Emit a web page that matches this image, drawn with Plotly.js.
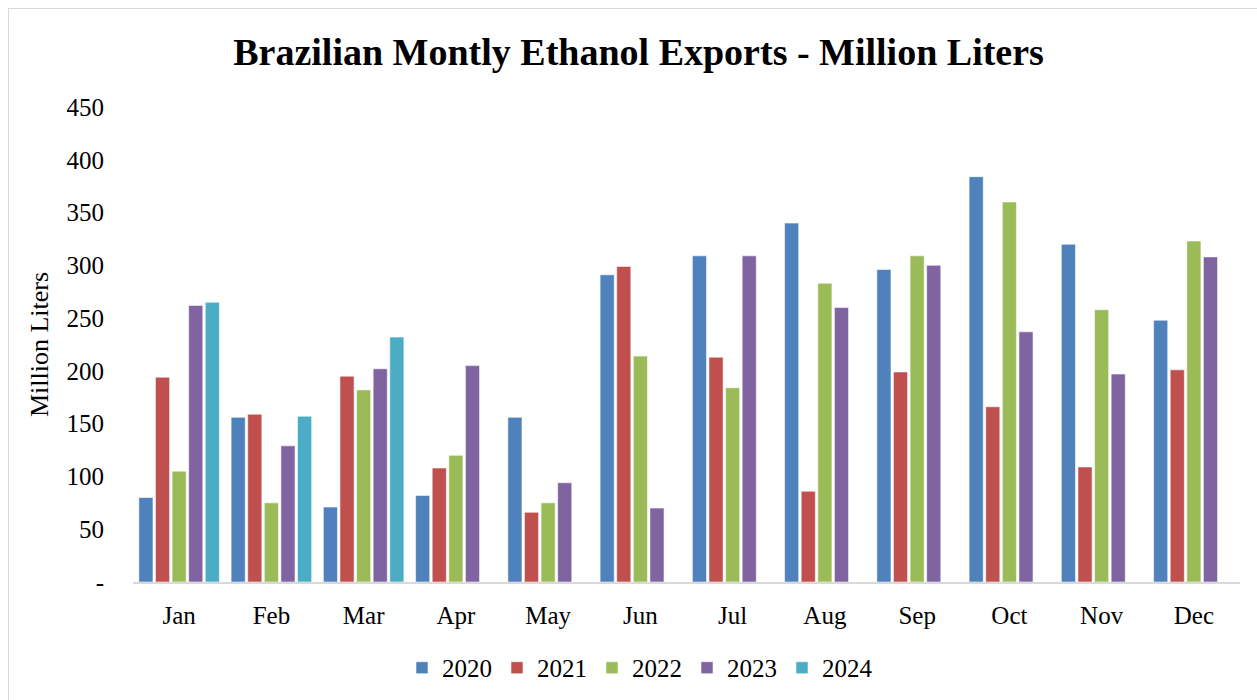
<!DOCTYPE html>
<html>
<head>
<meta charset="utf-8">
<script src="https://cdn.plot.ly/plotly-3.0.1.min.js"></script>
<style>
  html, body { margin: 0; padding: 0; background: #fff; }
  #wrap { position: relative; width: 1257px; height: 700px; }
  #chart { width: 1257px; height: 700px; }
  #frame { position: absolute; left: 8px; top: 8px; width: 1250px; height: 700px; border: 1px solid #d9d9d9; pointer-events: none; }
</style>
</head>
<body>
<div id="wrap"><div id="chart"></div><div id="frame"></div></div>
<script>
const months = ["Jan","Feb","Mar","Apr","May","Jun","Jul","Aug","Sep","Oct","Nov","Dec"];
const y2020 = [80, 156, 71, 82, 156, 291, 309, 340, 296, 384, 320, 248];
const y2021 = [194, 159, 195, 108, 66, 299, 213, 86, 199, 166, 109, 201];
const y2022 = [105, 75, 182, 120, 75, 214, 184, 283, 309, 360, 258, 323];
const y2023 = [262, 129, 202, 205, 94, 70, 309, 260, 300, 237, 197, 308];
const y2024 = [265, 157, 232, null, null, null, null, null, null, null, null, null];
const yearNames = ["2020","2021","2022","2023","2024"];
const yearColors = ["#4F81BD","#C0504D","#9BBB59","#8064A2","#4BACC6"];
const seriesList = [y2020, y2021, y2022, y2023, y2024];

const traces = seriesList.map((vals, i) => ({
  type: "bar",
  name: yearNames[i],
  x: months,
  y: vals,
  marker: { color: yearColors[i], line: { color: "rgba(255,255,255,0.55)", width: 1 } },
  hoverinfo: "x+y+name"
}));

const serif = "'Liberation Serif', 'Times New Roman', Times, serif";
const layout = {
  width: 1257, height: 700,
  margin: { l: 133, r: 17, t: 107, b: 118, autoexpand: false },
  paper_bgcolor: "#fff", plot_bgcolor: "#fff",
  barmode: "group",
  bargap: 0.1,
  bargroupgap: 0.15,
  font: { family: serif, color: "#000" },
  title: {
    text: "<b>Brazilian Montly Ethanol Exports - Million Liters</b>",
    font: { family: serif, size: 38, color: "#000" },
    x: 0.508, xanchor: "center", y: 0.926, yanchor: "middle"
  },
  xaxis: {
    type: "category",
    showgrid: false, zeroline: false,
    showline: true, linecolor: "#d9d9d9", linewidth: 2,
    ticks: "",
    tickfont: { family: serif, size: 25, color: "#000" },
    ticklabelstandoff: 10
  },
  yaxis: {
    range: [0, 450],
    tickvals: [0, 50, 100, 150, 200, 250, 300, 350, 400, 450],
    ticktext: ["-", "50", "100", "150", "200", "250", "300", "350", "400", "450"],
    showgrid: false, zeroline: false, showline: false,
    ticks: "",
    ticklabelstandoff: 28,
    tickfont: { family: serif, size: 25, color: "#000" },
    title: { text: "Million Liters", font: { family: serif, size: 26, color: "#000" }, standoff: 10 }
  },
  legend: {
    orientation: "h",
    x: 0.458, xanchor: "center",
    y: -0.181, yanchor: "middle",
    font: { family: serif, size: 25, color: "#000" },
    itemwidth: 30,
    traceorder: "normal"
  },
  showlegend: true
};

Plotly.newPlot("chart", traces, layout, { displayModeBar: false, responsive: false });
</script>
</body>
</html>
